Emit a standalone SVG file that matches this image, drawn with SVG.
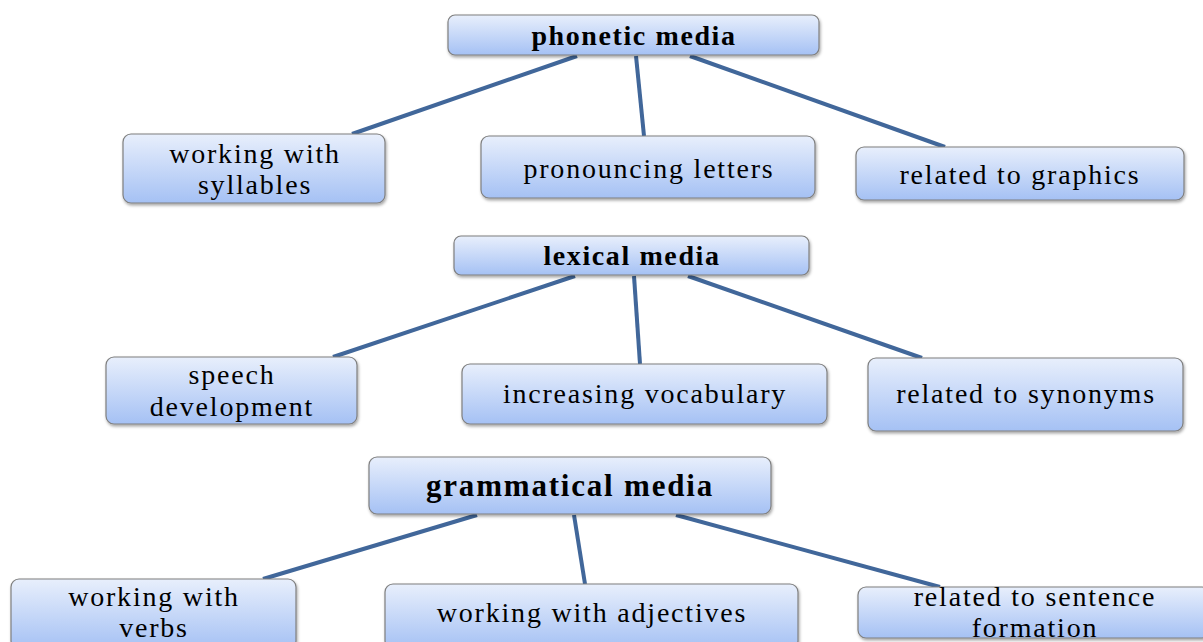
<svg xmlns="http://www.w3.org/2000/svg" width="1203" height="642" viewBox="0 0 1203 642">
<defs>
<linearGradient id="g" x1="0" y1="0" x2="0" y2="1">
<stop offset="0" stop-color="#e8effc"/>
<stop offset="1" stop-color="#a5c1f4"/>
</linearGradient>
<filter id="sh" x="-10%" y="-20%" width="120%" height="150%">
<feDropShadow dx="1" dy="2" stdDeviation="1.5" flood-color="#000" flood-opacity="0.35"/>
</filter>
</defs>
<style>
.box{fill:url(#g);stroke:#7f7f7f;stroke-width:1.2;filter:url(#sh)}
.t{font-family:"Liberation Serif",serif;font-size:28px;letter-spacing:1.8px;fill:#000;text-anchor:middle}
.b{font-family:"Liberation Serif",serif;font-size:28px;letter-spacing:1.6px;font-weight:bold;fill:#000;text-anchor:middle}
.big{font-size:31px;letter-spacing:1.8px}
.c line{stroke:#41679a;stroke-width:4;stroke-linecap:butt}
</style>
<rect width="1203" height="642" fill="#fff"/>
<g class="c" id="connectors">
<line x1="577" y1="56" x2="352" y2="134"/>
<line x1="636" y1="56" x2="644" y2="136"/>
<line x1="690" y1="56" x2="945" y2="147"/>
<line x1="575" y1="276" x2="333" y2="357"/>
<line x1="634" y1="276" x2="640" y2="364"/>
<line x1="688" y1="276" x2="922" y2="358"/>
<line x1="477" y1="515" x2="263" y2="579"/>
<line x1="574" y1="515" x2="585" y2="584"/>
<line x1="676" y1="515" x2="940" y2="587"/>
</g>
<g id="phonetic"><rect class="box" x="448" y="15" width="371" height="40" rx="7"/><text class="b" x="634" y="45">phonetic media</text></g>
<g id="syllables"><rect class="box" x="123" y="134" width="262" height="69" rx="8"/><text class="t" x="255" y="163">working with</text><text class="t" x="255" y="194">syllables</text></g>
<g id="letters"><rect class="box" x="481" y="136" width="334" height="62" rx="8"/><text class="t" x="649" y="178">pronouncing letters</text></g>
<g id="graphics"><rect class="box" x="856" y="147" width="328" height="53" rx="8"/><text class="t" x="1020" y="184">related to graphics</text></g>
<g id="lexical"><rect class="box" x="454" y="236" width="355" height="39" rx="7"/><text class="b" x="632" y="265">lexical media</text></g>
<g id="speech"><rect class="box" x="106" y="357" width="251" height="67" rx="8"/><text class="t" x="232" y="384">speech</text><text class="t" x="232" y="416">development</text></g>
<g id="vocabulary"><rect class="box" x="462" y="364" width="365" height="60" rx="8"/><text class="t" x="645" y="403">increasing vocabulary</text></g>
<g id="synonyms"><rect class="box" x="868" y="358" width="315" height="73" rx="8"/><text class="t" x="1026" y="403">related to synonyms</text></g>
<g id="grammatical"><rect class="box" x="369" y="457" width="402" height="57" rx="8"/><text class="b big" x="570" y="496">grammatical media</text></g>
<g id="verbs"><rect class="box" x="11" y="579" width="285" height="70" rx="8"/><text class="t" x="154" y="606">working with</text><text class="t" x="154" y="637">verbs</text></g>
<g id="adjectives"><rect class="box" x="385" y="584" width="413" height="65" rx="8"/><text class="t" x="592" y="622">working with adjectives</text></g>
<g id="sentence"><rect class="box" x="858" y="587" width="352" height="51" rx="8"/><text class="t" x="1035" y="606">related to sentence</text><text class="t" x="1035" y="637">formation</text></g>
</svg>
